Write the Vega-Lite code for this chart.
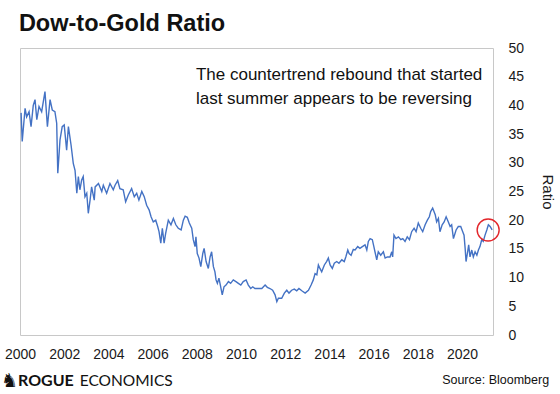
{
  "$schema": "https://vega.github.io/schema/vega-lite/v6.json",
  "width": 473,
  "height": 287,
  "autosize": {"type": "none"},
  "padding": {"left": 20, "top": 48, "right": 67, "bottom": 59},
  "background": "white",
  "view": {"stroke": "#c8c8c8", "strokeWidth": 1},
  "config": {
    "view": {"stroke": "#c8c8c8", "strokeWidth": 1},
    "font": "Liberation Sans, Arial, sans-serif",
    "axisX": {"format": "d", "title": null, "grid": false, "ticks": false, "domain": false, "labelFontSize": 14, "labelColor": "#1a1a1a", "labelPadding": 12, "labelFlush": false, "labelOverlap": false},
    "axisY": {"orient": "right", "titleAngle": 90, "titleFontSize": 15, "titleFontWeight": "normal", "titleColor": "#1a1a1a", "titlePadding": 16, "grid": false, "ticks": false, "domain": false, "labelFontSize": 14, "labelColor": "#1a1a1a", "labelPadding": 15, "labelFlush": false, "labelOverlap": false}
  },
  "layer": [
    {
      "data": {
        "values": [
          {"t": 2000.05, "v": 38.7}, {"t": 2000.10, "v": 33.7}, {"t": 2000.23, "v": 39.5}, {"t": 2000.30, "v": 38.0},
          {"t": 2000.41, "v": 38.9}, {"t": 2000.50, "v": 36.3}, {"t": 2000.60, "v": 40.0}, {"t": 2000.68, "v": 41.0},
          {"t": 2000.76, "v": 37.5}, {"t": 2000.86, "v": 39.8}, {"t": 2000.98, "v": 38.9}, {"t": 2001.13, "v": 42.4},
          {"t": 2001.24, "v": 36.3}, {"t": 2001.36, "v": 41.0}, {"t": 2001.46, "v": 39.2}, {"t": 2001.58, "v": 38.9},
          {"t": 2001.66, "v": 36.9}, {"t": 2001.71, "v": 28.2}, {"t": 2001.81, "v": 34.0}, {"t": 2001.91, "v": 36.3},
          {"t": 2002.00, "v": 36.6}, {"t": 2002.11, "v": 32.2}, {"t": 2002.19, "v": 36.3}, {"t": 2002.31, "v": 33.1},
          {"t": 2002.41, "v": 29.9}, {"t": 2002.49, "v": 28.7}, {"t": 2002.57, "v": 24.7}, {"t": 2002.64, "v": 27.6},
          {"t": 2002.71, "v": 25.3}, {"t": 2002.79, "v": 27.0}, {"t": 2002.86, "v": 27.6}, {"t": 2002.94, "v": 24.1},
          {"t": 2003.02, "v": 24.7}, {"t": 2003.09, "v": 21.2}, {"t": 2003.17, "v": 23.5}, {"t": 2003.24, "v": 25.8},
          {"t": 2003.36, "v": 23.5}, {"t": 2003.40, "v": 25.8}, {"t": 2003.55, "v": 26.4}, {"t": 2003.70, "v": 25.0},
          {"t": 2003.77, "v": 26.1}, {"t": 2003.92, "v": 24.7}, {"t": 2004.07, "v": 26.4}, {"t": 2004.22, "v": 25.3},
          {"t": 2004.30, "v": 26.1}, {"t": 2004.42, "v": 26.9}, {"t": 2004.52, "v": 25.5}, {"t": 2004.67, "v": 25.3},
          {"t": 2004.78, "v": 23.2}, {"t": 2004.90, "v": 24.4}, {"t": 2005.05, "v": 25.5}, {"t": 2005.17, "v": 24.1},
          {"t": 2005.28, "v": 24.7}, {"t": 2005.38, "v": 23.5}, {"t": 2005.51, "v": 25.0}, {"t": 2005.62, "v": 24.1},
          {"t": 2005.73, "v": 22.6}, {"t": 2005.84, "v": 21.8}, {"t": 2005.93, "v": 20.6}, {"t": 2006.03, "v": 19.7},
          {"t": 2006.14, "v": 20.0}, {"t": 2006.23, "v": 18.9}, {"t": 2006.29, "v": 18.0}, {"t": 2006.37, "v": 16.0},
          {"t": 2006.44, "v": 18.6}, {"t": 2006.52, "v": 16.0}, {"t": 2006.59, "v": 17.7}, {"t": 2006.71, "v": 20.0},
          {"t": 2006.83, "v": 19.2}, {"t": 2006.94, "v": 20.3}, {"t": 2007.05, "v": 19.2}, {"t": 2007.16, "v": 18.6},
          {"t": 2007.29, "v": 18.3}, {"t": 2007.39, "v": 20.0}, {"t": 2007.47, "v": 20.7}, {"t": 2007.57, "v": 20.5},
          {"t": 2007.66, "v": 19.5}, {"t": 2007.77, "v": 18.6}, {"t": 2007.84, "v": 16.6}, {"t": 2007.92, "v": 15.4},
          {"t": 2007.96, "v": 17.1}, {"t": 2008.02, "v": 14.2}, {"t": 2008.10, "v": 13.4}, {"t": 2008.18, "v": 11.9},
          {"t": 2008.27, "v": 14.2}, {"t": 2008.33, "v": 15.1}, {"t": 2008.42, "v": 12.8}, {"t": 2008.52, "v": 11.6},
          {"t": 2008.60, "v": 13.6}, {"t": 2008.67, "v": 14.5}, {"t": 2008.75, "v": 11.9}, {"t": 2008.82, "v": 11.0},
          {"t": 2008.87, "v": 9.6}, {"t": 2008.93, "v": 9.0}, {"t": 2009.00, "v": 9.9}, {"t": 2009.08, "v": 8.4},
          {"t": 2009.15, "v": 7.0}, {"t": 2009.23, "v": 8.4}, {"t": 2009.32, "v": 8.7}, {"t": 2009.43, "v": 9.3},
          {"t": 2009.53, "v": 9.0}, {"t": 2009.65, "v": 9.6}, {"t": 2009.77, "v": 9.3}, {"t": 2009.88, "v": 9.0},
          {"t": 2009.99, "v": 8.7}, {"t": 2010.10, "v": 9.3}, {"t": 2010.23, "v": 9.6}, {"t": 2010.33, "v": 8.7},
          {"t": 2010.44, "v": 8.1}, {"t": 2010.53, "v": 8.4}, {"t": 2010.63, "v": 8.1}, {"t": 2010.78, "v": 8.1},
          {"t": 2010.94, "v": 8.1}, {"t": 2011.09, "v": 8.7}, {"t": 2011.19, "v": 8.3}, {"t": 2011.31, "v": 8.1},
          {"t": 2011.43, "v": 7.8}, {"t": 2011.54, "v": 7.0}, {"t": 2011.62, "v": 5.8}, {"t": 2011.69, "v": 6.4},
          {"t": 2011.84, "v": 6.4}, {"t": 2011.96, "v": 7.3}, {"t": 2012.07, "v": 7.8}, {"t": 2012.17, "v": 7.3},
          {"t": 2012.29, "v": 7.8}, {"t": 2012.41, "v": 8.0}, {"t": 2012.52, "v": 7.7}, {"t": 2012.62, "v": 8.1},
          {"t": 2012.75, "v": 7.7}, {"t": 2012.90, "v": 7.3}, {"t": 2013.05, "v": 7.8}, {"t": 2013.17, "v": 8.7},
          {"t": 2013.27, "v": 9.6}, {"t": 2013.35, "v": 10.7}, {"t": 2013.43, "v": 10.5}, {"t": 2013.50, "v": 12.2},
          {"t": 2013.57, "v": 11.6}, {"t": 2013.65, "v": 11.0}, {"t": 2013.77, "v": 12.2}, {"t": 2013.87, "v": 12.8},
          {"t": 2013.95, "v": 13.4}, {"t": 2014.03, "v": 12.2}, {"t": 2014.13, "v": 11.6}, {"t": 2014.22, "v": 12.5},
          {"t": 2014.33, "v": 12.8}, {"t": 2014.43, "v": 12.5}, {"t": 2014.56, "v": 13.1}, {"t": 2014.67, "v": 12.8},
          {"t": 2014.74, "v": 13.6}, {"t": 2014.83, "v": 14.8}, {"t": 2014.89, "v": 14.2}, {"t": 2014.98, "v": 13.9},
          {"t": 2015.08, "v": 14.9}, {"t": 2015.16, "v": 14.8}, {"t": 2015.28, "v": 15.4}, {"t": 2015.38, "v": 15.1},
          {"t": 2015.49, "v": 15.4}, {"t": 2015.61, "v": 15.7}, {"t": 2015.69, "v": 14.8}, {"t": 2015.76, "v": 16.3},
          {"t": 2015.84, "v": 16.8}, {"t": 2015.94, "v": 16.6}, {"t": 2016.01, "v": 15.4}, {"t": 2016.06, "v": 14.5},
          {"t": 2016.14, "v": 13.1}, {"t": 2016.21, "v": 14.5}, {"t": 2016.32, "v": 13.9}, {"t": 2016.44, "v": 14.5},
          {"t": 2016.52, "v": 13.4}, {"t": 2016.62, "v": 13.6}, {"t": 2016.74, "v": 13.6}, {"t": 2016.82, "v": 14.5},
          {"t": 2016.86, "v": 13.6}, {"t": 2016.92, "v": 17.4}, {"t": 2017.01, "v": 16.8}, {"t": 2017.12, "v": 17.1},
          {"t": 2017.23, "v": 16.6}, {"t": 2017.32, "v": 16.8}, {"t": 2017.42, "v": 16.3}, {"t": 2017.52, "v": 17.1},
          {"t": 2017.62, "v": 16.6}, {"t": 2017.72, "v": 18.0}, {"t": 2017.83, "v": 18.6}, {"t": 2017.92, "v": 18.0},
          {"t": 2018.02, "v": 19.5}, {"t": 2018.13, "v": 18.6}, {"t": 2018.22, "v": 18.0}, {"t": 2018.33, "v": 19.2},
          {"t": 2018.43, "v": 20.0}, {"t": 2018.52, "v": 20.6}, {"t": 2018.58, "v": 21.5}, {"t": 2018.67, "v": 22.1},
          {"t": 2018.73, "v": 21.5}, {"t": 2018.79, "v": 20.9}, {"t": 2018.85, "v": 19.7}, {"t": 2018.93, "v": 20.3},
          {"t": 2019.00, "v": 18.0}, {"t": 2019.10, "v": 19.2}, {"t": 2019.19, "v": 19.7}, {"t": 2019.28, "v": 20.6},
          {"t": 2019.38, "v": 19.7}, {"t": 2019.46, "v": 18.9}, {"t": 2019.53, "v": 19.2}, {"t": 2019.61, "v": 16.8},
          {"t": 2019.73, "v": 18.3}, {"t": 2019.83, "v": 18.9}, {"t": 2019.94, "v": 18.9}, {"t": 2020.03, "v": 18.0},
          {"t": 2020.09, "v": 17.4}, {"t": 2020.14, "v": 15.1}, {"t": 2020.18, "v": 12.8}, {"t": 2020.24, "v": 14.2},
          {"t": 2020.30, "v": 15.7}, {"t": 2020.36, "v": 13.6}, {"t": 2020.44, "v": 14.8}, {"t": 2020.51, "v": 13.6},
          {"t": 2020.59, "v": 14.5}, {"t": 2020.67, "v": 13.9}, {"t": 2020.74, "v": 14.8}, {"t": 2020.81, "v": 15.4},
          {"t": 2020.89, "v": 16.6}, {"t": 2020.96, "v": 16.3}, {"t": 2021.04, "v": 17.4}, {"t": 2021.12, "v": 18.3},
          {"t": 2021.19, "v": 19.2}, {"t": 2021.27, "v": 18.9}, {"t": 2021.36, "v": 18.3}
        ]
      },
      "mark": {"type": "line", "color": "#4472C4", "strokeWidth": 1.4},
      "encoding": {
        "x": {
          "field": "t", "type": "quantitative",
          "scale": {"domain": [2000, 2021.4], "nice": false, "zero": false},
          "axis": {"values": [2000, 2002, 2004, 2006, 2008, 2010, 2012, 2014, 2016, 2018, 2020], "title": null}
        },
        "y": {
          "field": "v", "type": "quantitative",
          "scale": {"domain": [0, 50], "nice": false},
          "axis": {"values": [0, 5, 10, 15, 20, 25, 30, 35, 40, 45, 50], "title": "Ratio", "orient": "right"}
        }
      }
    },
    {
      "data": {"values": [{}]},
      "mark": {"type": "point", "shape": "circle", "filled": false, "stroke": "#e3262b", "strokeWidth": 1.4, "size": 484, "opacity": 1},
      "encoding": {
        "x": {"datum": 2021.18, "type": "quantitative", "axis": {"values": [2000, 2002, 2004, 2006, 2008, 2010, 2012, 2014, 2016, 2018, 2020], "title": null}},
        "y": {"datum": 18.3, "type": "quantitative", "axis": {"values": [0, 5, 10, 15, 20, 25, 30, 35, 40, 45, 50], "title": "Ratio", "orient": "right"}}
      }
    },
    {
      "data": {"values": [{"label": "Dow-to-Gold Ratio"}]},
      "mark": {"type": "text", "align": "left", "baseline": "alphabetic", "fontSize": 23.5, "fontWeight": "bold", "font": "Liberation Sans, Arial, sans-serif", "color": "#111111"},
      "encoding": {
        "x": {"datum": 1999.95, "type": "quantitative", "axis": {"values": [2000, 2002, 2004, 2006, 2008, 2010, 2012, 2014, 2016, 2018, 2020], "title": null}},
        "y": {"datum": 53.0, "type": "quantitative", "axis": {"values": [0, 5, 10, 15, 20, 25, 30, 35, 40, 45, 50], "title": "Ratio", "orient": "right"}},
        "text": {"field": "label"}
      }
    },
    {
      "data": {"values": [{"label": "The countertrend rebound that started"}]},
      "mark": {"type": "text", "align": "left", "baseline": "middle", "fontSize": 17, "font": "Liberation Sans, Arial, sans-serif", "color": "#111111"},
      "encoding": {
        "x": {"datum": 2007.96, "type": "quantitative", "axis": {"values": [2000, 2002, 2004, 2006, 2008, 2010, 2012, 2014, 2016, 2018, 2020], "title": null}},
        "y": {"datum": 45.3, "type": "quantitative", "axis": {"values": [0, 5, 10, 15, 20, 25, 30, 35, 40, 45, 50], "title": "Ratio", "orient": "right"}},
        "text": {"field": "label"}
      }
    },
    {
      "data": {"values": [{"label": "last summer appears to be reversing"}]},
      "mark": {"type": "text", "align": "left", "baseline": "middle", "fontSize": 17, "font": "Liberation Sans, Arial, sans-serif", "color": "#111111"},
      "encoding": {
        "x": {"datum": 2007.96, "type": "quantitative", "axis": {"values": [2000, 2002, 2004, 2006, 2008, 2010, 2012, 2014, 2016, 2018, 2020], "title": null}},
        "y": {"datum": 41.1, "type": "quantitative", "axis": {"values": [0, 5, 10, 15, 20, 25, 30, 35, 40, 45, 50], "title": "Ratio", "orient": "right"}},
        "text": {"field": "label"}
      }
    },
    {
      "data": {"values": [{"label": "♞"}]},
      "mark": {"type": "text", "align": "center", "baseline": "middle", "fontSize": 19, "font": "DejaVu Sans", "color": "#111111"},
      "encoding": {
        "x": {"datum": 1999.52, "type": "quantitative", "axis": {"values": [2000, 2002, 2004, 2006, 2008, 2010, 2012, 2014, 2016, 2018, 2020], "title": null}},
        "y": {"datum": -8.0, "type": "quantitative", "axis": {"values": [0, 5, 10, 15, 20, 25, 30, 35, 40, 45, 50], "title": "Ratio", "orient": "right"}},
        "text": {"field": "label"}
      }
    },
    {
      "data": {"values": [{"label": "ROGUE"}]},
      "mark": {"type": "text", "align": "left", "baseline": "middle", "fontSize": 16, "font": "Lato", "fontWeight": "bold", "color": "#111111"},
      "encoding": {
        "x": {"datum": 1999.91, "type": "quantitative", "axis": {"values": [2000, 2002, 2004, 2006, 2008, 2010, 2012, 2014, 2016, 2018, 2020], "title": null}},
        "y": {"datum": -8.0, "type": "quantitative", "axis": {"values": [0, 5, 10, 15, 20, 25, 30, 35, 40, 45, 50], "title": "Ratio", "orient": "right"}},
        "text": {"field": "label"}
      }
    },
    {
      "data": {"values": [{"label": "ECONOMICS"}]},
      "mark": {"type": "text", "align": "left", "baseline": "middle", "fontSize": 15.5, "font": "Lato", "color": "#111111"},
      "encoding": {
        "x": {"datum": 2002.7, "type": "quantitative", "axis": {"values": [2000, 2002, 2004, 2006, 2008, 2010, 2012, 2014, 2016, 2018, 2020], "title": null}},
        "y": {"datum": -8.0, "type": "quantitative", "axis": {"values": [0, 5, 10, 15, 20, 25, 30, 35, 40, 45, 50], "title": "Ratio", "orient": "right"}},
        "text": {"field": "label"}
      }
    },
    {
      "data": {"values": [{"label": "Source: Bloomberg"}]},
      "mark": {"type": "text", "align": "right", "baseline": "middle", "fontSize": 12.5, "font": "Liberation Sans, Arial, sans-serif", "color": "#111111"},
      "encoding": {
        "x": {"datum": 2023.94, "type": "quantitative", "axis": {"values": [2000, 2002, 2004, 2006, 2008, 2010, 2012, 2014, 2016, 2018, 2020], "title": null}},
        "y": {"datum": -7.8, "type": "quantitative", "axis": {"values": [0, 5, 10, 15, 20, 25, 30, 35, 40, 45, 50], "title": "Ratio", "orient": "right"}},
        "text": {"field": "label"}
      }
    }
  ]
}
